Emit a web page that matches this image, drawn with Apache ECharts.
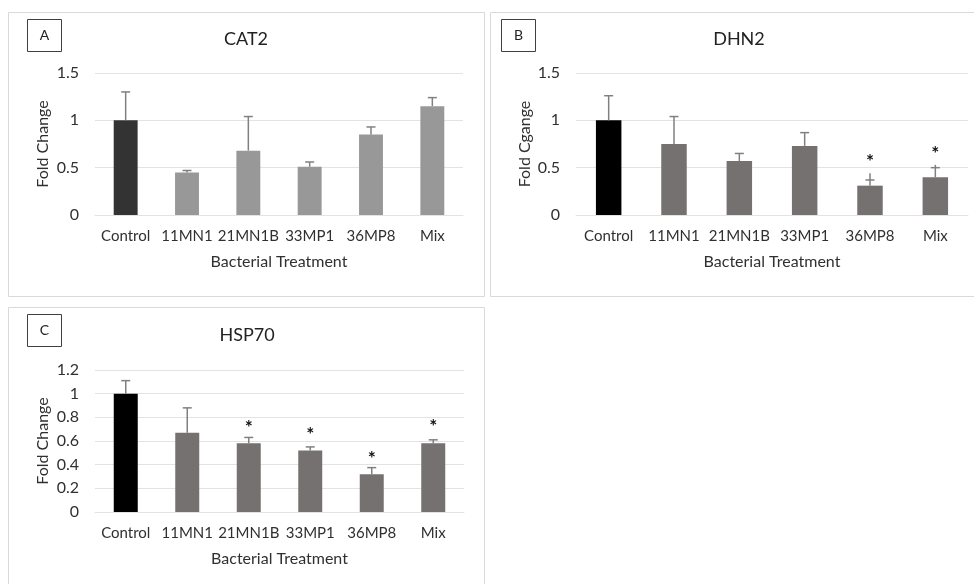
<!DOCTYPE html>
<html>
<head>
<meta charset="utf-8">
<script src="https://cdn.jsdelivr.net/npm/echarts@6/dist/echarts.min.js"></script>
<style>html,body{margin:0;padding:0;background:#fff;}#c{width:974px;height:584px;}</style>
</head>
<body>
<div id="c"></div>
<script>
const categories = ['Control','11MN1','21MN1B','33MP1','36MP8','Mix'];
const cat2Mean   = [1.00, 0.45, 0.68, 0.51, 0.85, 1.15];
const cat2ErrTop = [1.30, 0.47, 1.04, 0.56, 0.93, 1.24];
const dhn2Mean   = [1.00, 0.75, 0.57, 0.73, 0.31, 0.40];
const dhn2ErrTop = [1.26, 1.04, 0.65, 0.87, 0.44, 0.53];
const dhn2CapAt  = [1.26, 1.04, 0.65, 0.87, 0.37, 0.50];
const dhn2Star   = [null, null, null, null, 0.61, 0.70];
const hsp70Mean  = [1.00, 0.67, 0.58, 0.52, 0.32, 0.58];
const hsp70ErrTop= [1.11, 0.88, 0.63, 0.55, 0.375, 0.61];
const hsp70Star  = [null, null, 0.75, 0.69, 0.49, 0.76];
const yTicksAB = [0, 0.5, 1, 1.5];
const yTicksC  = [0, 0.2, 0.4, 0.6, 0.8, 1, 1.2];

const FONT = 'Lato';
const TXT = '#303030';
const GRIDC = '#e3e3e3';

const chart = echarts.init(document.getElementById('c'), null, {renderer:'canvas'});

function xAxis(gi){
  return {type:'category', gridIndex:gi, data:categories,
    axisLine:{show:true, lineStyle:{color:GRIDC}}, axisTick:{show:false},
    axisLabel:{color:TXT, fontFamily:FONT, fontSize:15, margin:14, interval:0},
    name:'Bacterial Treatment', nameLocation:'middle', nameGap:39,
    nameTextStyle:{color:TXT, fontFamily:FONT, fontSize:16}};
}
function yAxis(gi, ticks, name, gap){
  return {type:'value', gridIndex:gi, min:ticks[0], max:ticks[ticks.length-1], interval:ticks[1]-ticks[0],
    axisLine:{show:false}, axisTick:{show:false},
    splitLine:{lineStyle:{color:GRIDC}},
    axisLabel:{color:TXT, fontFamily:FONT, fontSize:16, margin:16},
    name:name, nameLocation:'middle', nameGap:gap, nameRotate:90,
    nameTextStyle:{color:TXT, fontFamily:FONT, fontSize:16}};
}
function bars(gi, vals, ctrlColor, color){
  return {type:'bar', xAxisIndex:gi, yAxisIndex:gi, barWidth:'39%',
    data: vals.map((v,i)=>({value:v, itemStyle:{color: i===0?ctrlColor:color}})),
    silent:true, z:2};
}
function errs(gi, mean, top, cap){
  return {type:'custom', xAxisIndex:gi, yAxisIndex:gi, silent:true, z:3,
    data: mean.map((m,i)=>[i, m, top[i], cap ? cap[i] : top[i]]),
    renderItem:function(params, api){
      const p0 = api.coord([api.value(0), api.value(1)]);
      const p1 = api.coord([api.value(0), api.value(2)]);
      const pc = api.coord([api.value(0), api.value(3)]);
      const st = {stroke:'#808080', lineWidth:1.5};
      return {type:'group', children:[
        {type:'line', shape:{x1:p0[0], y1:p0[1], x2:p1[0], y2:p1[1]}, style:st},
        {type:'line', shape:{x1:pc[0]-4.5, y1:pc[1], x2:pc[0]+4.5, y2:pc[1]}, style:st}
      ]};
    }};
}
function stars(gi, s){
  return {type:'custom', xAxisIndex:gi, yAxisIndex:gi, silent:true, z:4,
    data: s.map((v,i)=>[i, v]).filter(d=>d[1]!==null),
    renderItem:function(params, api){
      const p = api.coord([api.value(0), api.value(1)]);
      return {type:'text', x:p[0], y:p[1]+5, style:{text:'*', fill:'#111', font:'bold 19px '+FONT, align:'center', verticalAlign:'middle'}};
    }};
}
function panelBox(x,y,w,h){ return {type:'rect', shape:{x:x,y:y,width:w,height:h}, style:{fill:'none', stroke:'#d9d9d9', lineWidth:1}, silent:true}; }
function letterBox(x,y,t){ return {type:'group', children:[
  {type:'rect', shape:{x:x,y:y,width:34,height:32}, style:{fill:'#fff', stroke:'#404040', lineWidth:1}},
  {type:'text', x:x+17, y:y+16, style:{text:t, fill:'#222', font:'14px '+FONT, align:'center', verticalAlign:'middle'}}
]}; }
function titleText(x,y,t){ return {type:'text', x:x, y:y, style:{text:t, fill:'#222', font:'18px '+FONT, align:'center', verticalAlign:'middle'}}; }

chart.setOption({
  animation:false,
  grid:[
    {left:95, right:511, top:73, bottom:369},
    {left:576, right:6, top:73, bottom:369},
    {left:95, right:510, top:370, bottom:72}
  ],
  xAxis:[xAxis(0), xAxis(1), xAxis(2)],
  yAxis:[yAxis(0, yTicksAB, 'Fold Change', 44), yAxis(1, yTicksAB, 'Fold Cgange', 43), yAxis(2, yTicksC, 'Fold Change', 44)],
  series:[
    bars(0, cat2Mean, '#333333', '#989898'),
    errs(0, cat2Mean, cat2ErrTop),
    bars(1, dhn2Mean, '#000000', '#767171'),
    errs(1, dhn2Mean, dhn2ErrTop, dhn2CapAt),
    stars(1, dhn2Star),
    bars(2, hsp70Mean, '#000000', '#767171'),
    errs(2, hsp70Mean, hsp70ErrTop),
    stars(2, hsp70Star)
  ],
  graphic:[
    panelBox(8.5, 12.5, 476, 284),
    panelBox(490.5, 12.5, 500, 284),
    panelBox(8.5, 307.5, 476, 300),
    letterBox(27.5, 19.5, 'A'),
    letterBox(501.5, 19.5, 'B'),
    letterBox(27.5, 314.5, 'C'),
    titleText(246, 39, 'CAT2'),
    titleText(739, 39, 'DHN2'),
    titleText(247, 335, 'HSP70')
  ]
});
</script>
</body>
</html>
